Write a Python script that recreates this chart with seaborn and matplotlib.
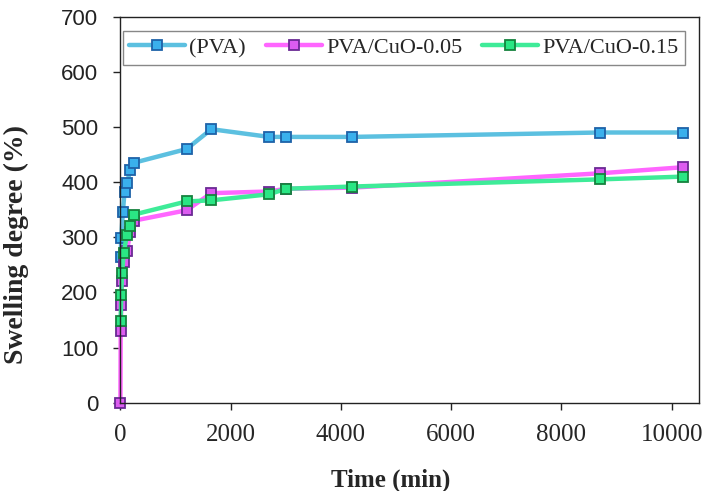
import matplotlib
matplotlib.use("Agg")
import matplotlib.pyplot as plt
import seaborn as sns
import pandas as pd

# Swelling kinetics of the three hydrogels
t_pva = [5, 15, 45, 75, 120, 180, 240, 1200, 1650, 2700, 3000, 4200, 8700, 10200]
sw_pva = [264, 299, 346, 383, 399, 422, 435, 460, 496, 482, 482, 482, 490, 490]

t_cuo05 = [0, 5, 15, 30, 60, 120, 180, 240, 1200, 1650, 2700, 3000, 4200, 8700, 10200]
sw_cuo05 = [0, 130, 177, 220, 256, 276, 310, 330, 349, 380, 383, 388, 390, 416, 427]

t_cuo15 = [5, 15, 30, 60, 120, 180, 240, 1200, 1650, 2700, 3000, 4200, 8700, 10200]
sw_cuo15 = [148, 195, 235, 272, 305, 320, 341, 365, 367, 378, 388, 392, 405, 410]

series_names = ["(PVA)", "PVA/CuO-0.05", "PVA/CuO-0.15"]
x_ticks = [0, 2000, 4000, 6000, 8000, 10000]
y_ticks = [0, 100, 200, 300, 400, 500, 600, 700]

sns.set_style("ticks")
serif = ["Liberation Serif", "DejaVu Serif"]
sans = ["Liberation Sans", "DejaVu Sans"]

fig = plt.figure(figsize=(7.07, 4.91), dpi=100)
ax = fig.add_axes([0.1703, 0.1798, 0.8188, 0.7862])

styles = [
    dict(color="#5CC0E0", mfc="#3AB0EC", mec="#1E62A8"),
    dict(color="#FF66FF", mfc="#DC5CF0", mec="#6A2A94"),
    dict(color="#3EEB98", mfc="#2AE684", mec="#16823E"),
]
data = [(t_pva, sw_pva), (t_cuo05, sw_cuo05), (t_cuo15, sw_cuo15)]

for (tt, vv), name, st in zip(data, series_names, styles):
    df = pd.DataFrame({"Time (min)": tt, "Swelling degree (%)": vv})
    sns.lineplot(data=df, x="Time (min)", y="Swelling degree (%)", ax=ax,
                 color=st["color"], linewidth=3.2, marker="s", markersize=7.5,
                 markerfacecolor=st["mfc"], markeredgecolor=st["mec"],
                 markeredgewidth=1.3, label=name, clip_on=False, sort=False)

ax.set_xlim(0, 10500)
ax.set_ylim(0, 700)
ax.set_xticks(x_ticks)
ax.set_yticks(y_ticks)
ax.set_xticklabels([str(v) for v in x_ticks], family=serif, fontsize=18)
ax.set_yticklabels([str(v) for v in y_ticks], family=sans, fontsize=16, color="#222222")
ax.tick_params(axis="both", direction="out", length=5, width=1, color="#222222")
ax.tick_params(axis="x", pad=10)
ax.tick_params(axis="y", pad=11)

for s in ax.spines.values():
    s.set_visible(True)
    s.set_color("#222222")
    s.set_linewidth(1.0)

ax.set_xlabel("Time (min)", family=serif, fontsize=18, fontweight="bold")
ax.set_ylabel("Swelling degree (%)", family=serif, fontsize=20, fontweight="bold")
ax.xaxis.set_label_coords(0.467, -0.17)
ax.yaxis.set_label_coords(-0.158, 0.41)

leg = ax.legend(loc="upper left", bbox_to_anchor=(0.004, 0.963), ncol=3,
                prop={"family": serif, "size": 16}, frameon=True, fancybox=False,
                edgecolor="#888888", framealpha=1, handlelength=2.5,
                handletextpad=0.2, columnspacing=0.9, borderpad=0.3,
                borderaxespad=0)
leg.get_frame().set_linewidth(1.0)

fig.savefig("out.png", dpi=100)
